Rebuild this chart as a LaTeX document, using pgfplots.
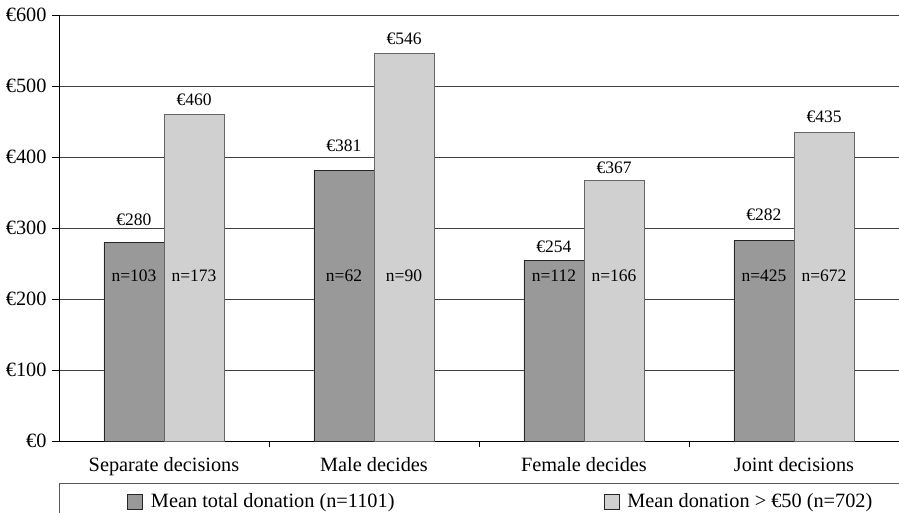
\documentclass[border=0pt]{standalone}
\usepackage{fontspec}
\setmainfont{Liberation Serif}
\usepackage{pgfplots}
\pgfplotsset{compat=1.18}

\definecolor{darkbar}{HTML}{999999}
\definecolor{lightbar}{HTML}{D0D0D0}

\begin{document}
\fontsize{20.3}{24}\selectfont
\begin{tikzpicture}[lbl/.style={anchor=base, font=\fontsize{17.5}{20}\selectfont}]
\begin{axis}[
  at={(0pt,0pt)}, anchor=south west,
  scale only axis, width=840pt, height=426pt,
  xmin=-0.5, xmax=3.5, ymin=0, ymax=600,
  ybar=0pt, bar width=0.286,
  axis x line*=bottom, axis y line*=left,
  axis line style={black, line width=0.9pt},
  tick align=outside,
  major tick length=7pt, minor tick length=6pt,
  tick style={black, line width=0.9pt},
  xtick={0,1,2,3},
  xticklabels={Separate decisions, Male decides, Female decides, Joint decisions},
  major x tick style={draw=none},
  minor xtick={0.5,1.5,2.5},
  xticklabel style={yshift=-2pt},
  ytick={0,100,...,600},
  /pgf/number format/assume math mode=true,
  yticklabel={€\pgfmathprintnumber{\tick}},
  yticklabel style={xshift=1.5pt},
  ymajorgrids,
  grid style={black!75, line width=0.8pt},
  legend columns=2,
  legend style={draw=none, fill=none, at={(rel axis cs:0,0)}, anchor=west,
    xshift=65pt, yshift=-60.5pt},
  /tikz/every even column/.append style={column sep=207pt},
  legend image code/.code={
    \draw[#1, draw=black!85] (0pt,-7.5pt) rectangle (15pt,7.5pt);
    \path (21pt,0pt);
  },
]
\addplot[fill=darkbar, draw=black!85, line width=0.8pt] coordinates {(0,280) (1,381) (2,254) (3,282)};
\addplot[fill=lightbar, draw=black!60, line width=0.8pt] coordinates {(0,460) (1,546) (2,367) (3,435)};
\legend{Mean total donation (n=1101), Mean donation > €50 (n=702)}

% value labels above bars
\node[lbl] at (axis cs:-0.143,304) {€280};
\node[lbl] at (axis cs:0.857,408) {€381};
\node[lbl] at (axis cs:1.857,266) {€254};
\node[lbl] at (axis cs:2.857,310) {€282};
\node[lbl] at (axis cs:0.143,472) {€460};
\node[lbl] at (axis cs:1.143,558) {€546};
\node[lbl] at (axis cs:2.143,377) {€367};
\node[lbl] at (axis cs:3.143,448) {€435};

% group sizes inside bars
\node[lbl] at (axis cs:-0.143,225) {n=103};
\node[lbl] at (axis cs:0.857,225) {n=62};
\node[lbl] at (axis cs:1.857,225) {n=112};
\node[lbl] at (axis cs:2.857,225) {n=425};
\node[lbl] at (axis cs:0.143,225) {n=173};
\node[lbl] at (axis cs:1.143,225) {n=90};
\node[lbl] at (axis cs:2.143,225) {n=166};
\node[lbl] at (axis cs:3.143,225) {n=672};
\end{axis}
% legend frame
\draw[black!65, line width=0.9pt] (0pt,-42pt) rectangle (860pt,-80pt);
\pgfresetboundingbox
\path (-59pt,-71pt) rectangle (840pt,441pt);
\end{tikzpicture}
\end{document}
